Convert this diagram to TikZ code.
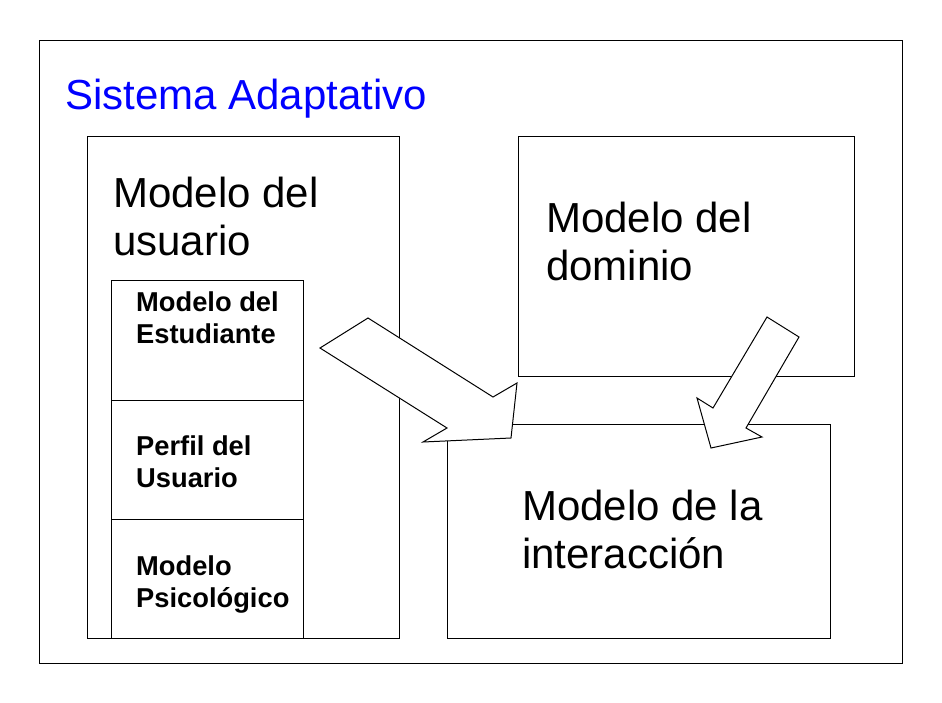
\documentclass[tikz,border=0pt]{standalone}
\usepackage{fontspec}
\setmainfont{Liberation Sans}
\begin{document}
\begin{tikzpicture}[x=1pt,y=-1pt,
  box/.style={draw=black,line width=1pt,fill=white,inner sep=0pt,outer sep=0pt,anchor=north west},
  big/.style={font=\fontsize{42}{48}\selectfont,inner sep=0pt,anchor=base west,align=left},
  small/.style={font=\fontsize{27.3}{32}\selectfont\bfseries,inner sep=0pt,anchor=base west,align=left},
  blockarrow/.style={draw=black,line width=1pt,fill=white,line join=miter}]
\useasboundingbox (0,0) rectangle (942,702);
\fill[white] (0,0) rectangle (942,702);
\node[box,minimum width=863pt,minimum height=623pt] (outer) at (39,40) {};
\node[font=\fontsize{42}{48}\selectfont,text=blue,inner sep=0pt,anchor=base west] (title) at (65,109) {Sistema Adaptativo};
\node[box,minimum width=312pt,minimum height=502pt] (user) at (87,136) {};
\node[box,minimum width=192pt,minimum height=120pt] (est) at (111,280) {};
\node[box,minimum width=192pt,minimum height=119pt] (perf) at (111,400) {};
\node[box,minimum width=192pt,minimum height=119pt] (psic) at (111,519) {};
\node[box,minimum width=336pt,minimum height=240pt] (dom) at (518,136) {};
\node[box,minimum width=383pt,minimum height=214pt] (inter) at (447,424) {};
\node[big] (tuser) at (113,255) {Modelo del\\usuario};
\node[big] (tdom) at (546,280) {Modelo del\\dominio};
\node[big] (tinter) at (522,568) {Modelo de la\\interacción};
\node[small] (test) at (136,343) {Modelo del\\Estudiante};
\node[small] (tperf) at (136,487) {Perfil del\\Usuario};
\node[small] (tpsic) at (136,607) {Modelo\\Psicológico};
% block arrows
\coordinate (a1) at (320,348);
\coordinate (a2) at (368,318);
\coordinate (a3) at (493,397);
\coordinate (a4) at (517,383);
\coordinate (a5) at (511,438);
\coordinate (a6) at (423,442);
\coordinate (a7) at (447,428);
\draw[blockarrow] (a1) -- (a2) -- (a3) -- (a4) -- (a5) -- (a6) -- (a7) -- cycle;
\coordinate (b1) at (767,317);
\coordinate (b2) at (799,337);
\coordinate (b3) at (746,428);
\coordinate (b4) at (762,437);
\coordinate (b5) at (711,448);
\coordinate (b6) at (697,398);
\coordinate (b7) at (713,408);
\draw[blockarrow] (b1) -- (b2) -- (b3) -- (b4) -- (b5) -- (b6) -- (b7) -- cycle;
\end{tikzpicture}
\end{document}
